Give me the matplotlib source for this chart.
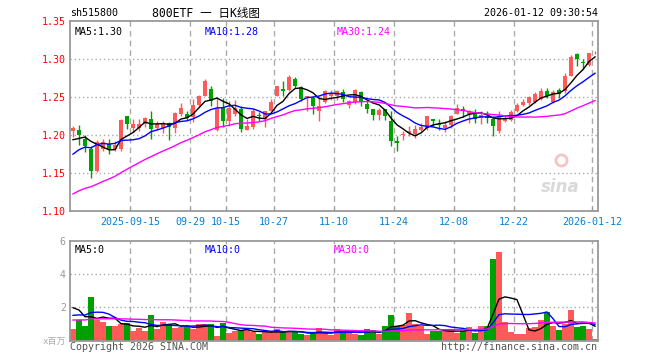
import matplotlib
matplotlib.use('Agg')
import matplotlib.pyplot as plt
import numpy as np
import pandas as pd

plt.rcParams['font.family'] = ['DejaVu Sans Mono', 'Noto Sans CJK SC']

###############################################################################
# data (price in CNY, volume in millions)
holidays = ['2025-10-01', '2025-10-02', '2025-10-03', '2025-10-06',
            '2025-10-07', '2025-10-08', '2026-01-01', '2026-01-02']

opens = [1.205, 1.206, 1.1952, 1.182, 1.153, 1.182, 1.1882, 1.182, 1.182, 1.225,
         1.2088, 1.2097, 1.214, 1.2215, 1.2088, 1.2088, 1.2158, 1.2088, 1.2281, 1.2281,
         1.2232, 1.2399, 1.2518, 1.261, 1.2061, 1.2355, 1.218, 1.2281, 1.2342, 1.207,
         1.2101, 1.2259, 1.221, 1.232, 1.2518, 1.261, 1.2588, 1.2741, 1.2632, 1.25,
         1.2487, 1.2311, 1.243, 1.2509, 1.2518, 1.2561, 1.2399, 1.243, 1.2566, 1.2412,
         1.2346, 1.2268, 1.2346, 1.2189, 1.1921, 1.200, 1.203, 1.2018, 1.207, 1.2092,
         1.2215, 1.214, 1.2092, 1.2136, 1.2281, 1.2342, 1.2281, 1.2281, 1.2224, 1.2254,
         1.221, 1.2048, 1.218, 1.2202, 1.2311, 1.2399, 1.2421, 1.2434, 1.2474, 1.2575,
         1.2434, 1.2588, 1.2575, 1.2781, 1.3057, 1.295, 1.2925, 1.3084]
highs = [1.212, 1.2136, 1.2004, 1.186, 1.193, 1.1947, 1.1952, 1.1917, 1.2215, 1.225,
         1.221, 1.221, 1.2232, 1.2311, 1.218, 1.218, 1.2167, 1.2298, 1.2421, 1.2311,
         1.2478, 1.2531, 1.2737, 1.264, 1.2487, 1.2487, 1.2443, 1.2456, 1.2377, 1.2211,
         1.2342, 1.2298, 1.2311, 1.2474, 1.264, 1.2706, 1.2785, 1.2759, 1.264, 1.2518,
         1.2518, 1.2509, 1.2596, 1.2596, 1.2596, 1.2605, 1.2465, 1.2605, 1.2575, 1.2443,
         1.2346, 1.2355, 1.2346, 1.2311, 1.1982, 1.2048, 1.2123, 1.2136, 1.2158, 1.2246,
         1.2215, 1.221, 1.218, 1.2268, 1.2408, 1.2386, 1.2333, 1.2342, 1.2311, 1.2311,
         1.2254, 1.2311, 1.2254, 1.2333, 1.2421, 1.2474, 1.2518, 1.2561, 1.2618, 1.2618,
         1.2596, 1.2618, 1.2816, 1.3044, 1.307, 1.300, 1.3079, 1.310]
lows = [1.198, 1.187, 1.1772, 1.1434, 1.1522, 1.1785, 1.1754, 1.1785, 1.1794, 1.2079,
        1.204, 1.2048, 1.2105, 1.1947, 1.2061, 1.2026, 1.193, 1.2031, 1.2254, 1.2202,
        1.2167, 1.2377, 1.2509, 1.2377, 1.2048, 1.2105, 1.2114, 1.2254, 1.2035, 1.2061,
        1.2083, 1.218, 1.2105, 1.2311, 1.2509, 1.2509, 1.2575, 1.2618, 1.2452, 1.2311,
        1.2281, 1.218, 1.2425, 1.2465, 1.2465, 1.243, 1.2355, 1.2412, 1.2377, 1.229,
        1.2193, 1.2193, 1.2193, 1.186, 1.1785, 1.1939, 1.1982, 1.1965, 1.2048, 1.207,
        1.2123, 1.2061, 1.2035, 1.2092, 1.2281, 1.2237, 1.2158, 1.2158, 1.2149, 1.2158,
        1.1991, 1.2026, 1.2167, 1.218, 1.2298, 1.2377, 1.2399, 1.2421, 1.2465, 1.2487,
        1.2421, 1.2487, 1.2553, 1.2772, 1.2912, 1.2868, 1.2912, 1.3057]
closes = [1.209, 1.2004, 1.1851, 1.1535, 1.1912, 1.1912, 1.182, 1.1864, 1.2202, 1.214,
          1.214, 1.2149, 1.2219, 1.2083, 1.214, 1.2158, 1.2105, 1.2289, 1.236, 1.2224,
          1.2399, 1.2518, 1.2706, 1.2452, 1.2355, 1.218, 1.2355, 1.2355, 1.2079, 1.2123,
          1.2311, 1.225, 1.2311, 1.2434, 1.264, 1.2575, 1.2759, 1.264, 1.2478, 1.2518,
          1.2377, 1.2386, 1.2575, 1.2553, 1.2575, 1.2474, 1.2452, 1.2596, 1.2439, 1.2346,
          1.2268, 1.2333, 1.2254, 1.1917, 1.1895, 1.201, 1.205, 1.2079, 1.2105, 1.2246,
          1.218, 1.2136, 1.2136, 1.2246, 1.2355, 1.2311, 1.2311, 1.221, 1.2268, 1.2224,
          1.2114, 1.2246, 1.2224, 1.2298, 1.239, 1.243, 1.2496, 1.2539, 1.2575, 1.2518,
          1.2566, 1.2544, 1.2781, 1.3022, 1.300, 1.2947, 1.307, 1.3088]
volumes = [0.70, 1.24, 0.88, 2.62, 1.24, 1.12, 0.88, 0.88, 1.00, 1.08,
           0.60, 0.78, 0.58, 1.54, 0.72, 1.12, 0.94, 0.76, 0.82, 0.82,
           0.70, 1.00, 0.98, 1.00, 0.30, 1.08, 0.46, 0.58, 0.62, 0.64,
           0.54, 0.40, 0.50, 0.50, 0.70, 0.50, 0.58, 0.50, 0.42, 0.34,
           0.40, 0.74, 0.45, 0.34, 0.70, 0.58, 0.62, 0.42, 0.34, 0.70,
           0.64, 0.40, 0.88, 1.54, 0.88, 0.94, 1.66, 1.00, 0.88, 0.40,
           0.58, 0.58, 0.58, 0.70, 0.44, 0.58, 0.82, 0.46, 0.88, 0.88,
           4.90, 5.35, 1.14, 0.52, 0.40, 0.40, 0.78, 0.82, 1.24, 1.70,
           0.88, 0.64, 1.00, 1.84, 0.82, 0.88, 0.70, 0.10]

# sessions before the window, only feeding the moving averages
prev_closes = [1.079, 1.086, 1.092, 1.089, 1.083, 1.087, 1.082, 1.076,
               1.078, 1.085, 1.089, 1.096, 1.094, 1.102, 1.106, 1.112,
               1.119, 1.116, 1.129, 1.135, 1.142, 1.151, 1.163, 1.148,
               1.176, 1.192, 1.176, 1.182, 1.2105]
prev_volumes = [0.95, 1.05, 0.88, 1.12, 0.92, 0.85, 1.02, 0.98, 1.20, 1.08,
                0.90, 1.15, 1.32, 1.25, 1.10, 0.96, 1.18, 1.40, 1.22, 1.47,
                0.95, 1.02, 1.10, 0.98, 1.25, 1.94, 2.88, 2.62, 1.76]

tick_dates = ['2025-09-15', '2025-09-29', '2025-10-15', '2025-10-27', '2025-11-10',
              '2025-11-24', '2025-12-08', '2025-12-22', '2026-01-12']
tick_labels = ['2025-09-15', '09-29', '10-15', '10-27', '11-10',
               '11-24', '12-08', '12-22', '2026-01-12']

###############################################################################
RED = '#ff5a5a'
GREEN = '#00a000'
FRAME = '#999999'
W, H = 660, 360

dates = pd.bdate_range('2025-09-01', '2026-01-12')
dates = dates[~dates.isin(pd.to_datetime(holidays))]
x = np.arange(len(dates))
tick_pos = [dates.get_loc(pd.Timestamp(d)) - 0.5 for d in tick_dates]

o = np.array(opens); h = np.array(highs); l = np.array(lows); c = np.array(closes)
up = c >= o
colors = np.where(up, RED, GREEN)

n = len(prev_closes)
all_c = pd.Series(prev_closes + closes)
all_v = pd.Series(prev_volumes + volumes)
ma = {k: all_c.rolling(k).mean().values[n:] for k in (5, 10, 30)}
vma = {k: all_v.rolling(k).mean().values[n:] for k in (5, 10, 30)}
ma_colors = {5: 'black', 10: '#0000ff', 30: '#ff00ff'}

def trunc2(v):
    # the quote page cuts the value, it does not round it
    return '%.2f' % (np.floor(v * 100) / 100)

fig = plt.figure(figsize=(6.6, 3.6), dpi=100)
ax1 = fig.add_axes([70 / W, 1 - 211.3 / H, 528 / W, 190.6 / H])
ax2 = fig.add_axes([70 / W, 1 - 340.7 / H, 528 / W, 100 / H])

def style_axes(ax, yticks):
    for s in ax.spines.values():
        s.set_color(FRAME)
        s.set_linewidth(1.3)
    ax.set_xlim(-0.5, len(x) - 0.5)
    for t in tick_pos:
        ax.axvline(t, color='#aaaaaa', lw=1, ls=(0, (4, 3)), zorder=0)
    for yv in yticks[1:-1]:
        ax.axhline(yv, color='#aaaaaa', lw=1, ls=(0, (1, 2)), zorder=0)
    ax.set_yticks(yticks)
    ax.tick_params(axis='y', length=0, pad=3, labelsize=7.2)

# price pane
style_axes(ax1, [1.10, 1.15, 1.20, 1.25, 1.30, 1.35])
ax1.set_ylim(1.10, 1.35)
ax1.set_yticklabels(['%.2f' % v for v in [1.10, 1.15, 1.20, 1.25, 1.30, 1.35]], color='red')
ax1.vlines(x, l, h, colors=colors, lw=1, zorder=2)
body = np.maximum(np.abs(c - o), 0.0012)
ax1.bar(x, body, bottom=np.minimum(o, c), width=0.78, color=colors, zorder=3)
for k in (5, 10, 30):
    ax1.plot(x, ma[k], color=ma_colors[k], lw=1, zorder=4)
ax1.set_xticks(tick_pos)
ax1.set_xticklabels(tick_labels, color='#0a7fd0', fontsize=7.2)
ax1.tick_params(axis='x', direction='in', length=3, color=FRAME, pad=4)

ax1.text(0.008, 0.965, 'MA5:' + trunc2(ma[5][-1]), transform=ax1.transAxes,
         color='black', fontsize=7.2, va='top')
ax1.text(0.255, 0.965, 'MA10:' + trunc2(ma[10][-1]), transform=ax1.transAxes,
         color='#0000ff', fontsize=7.2, va='top')
ax1.text(0.505, 0.965, 'MA30:' + trunc2(ma[30][-1]), transform=ax1.transAxes,
         color='#ff00ff', fontsize=7.2, va='top')

# sina watermark
ax1.text(0.965, 0.13, 'sina', transform=ax1.transAxes, ha='right', va='center',
         fontsize=12, fontweight='bold', style='italic', color='#d9d9d9',
         family='DejaVu Sans', zorder=1)
ax1.plot([0.93], [0.27], 'o', transform=ax1.transAxes, ms=8,
         mfc='none', mec='#f7c4c4', mew=2, zorder=1)

# volume pane
style_axes(ax2, [0, 2, 4, 6])
ax2.set_ylim(0, 6)
ax2.set_yticklabels(['', '2', '4', '6'], color='#999999')
ax2.bar(x, volumes, width=0.85, color=colors, zorder=2)
for k in (5, 10, 30):
    ax2.plot(x, vma[k], color=ma_colors[k], lw=1, zorder=3)
ax2.set_xticks([])
ax2.text(0.008, 0.96, 'MA5:0', transform=ax2.transAxes, color='black', fontsize=7.2, va='top')
ax2.text(0.255, 0.96, 'MA10:0', transform=ax2.transAxes, color='#0000ff', fontsize=7.2, va='top')
ax2.text(0.500, 0.96, 'MA30:0', transform=ax2.transAxes, color='#ff00ff', fontsize=7.2, va='top')

# header / footer
fig.text(70 / W, 1 - 13 / H, 'sh515800', fontsize=7.2, va='center')
fig.text(152 / W, 1 - 13 / H, '800ETF 一 日K线图', fontsize=8.3, va='center')
fig.text(598 / W, 1 - 13 / H, '2026-01-12 09:30:54', fontsize=7.2, va='center', ha='right')
fig.text(66 / W, 1 - 341 / H, 'x百万', fontsize=6.5, va='center', ha='right', color='#aaaaaa')
fig.text(70 / W, 1 - 347 / H, 'Copyright 2026 SINA.COM', fontsize=7.2, va='center', color='#555555')
fig.text(597 / W, 1 - 347 / H, 'http://finance.sina.com.cn', fontsize=7.2, va='center',
         ha='right', color='#555555')

fig.savefig('out.png', dpi=100)
